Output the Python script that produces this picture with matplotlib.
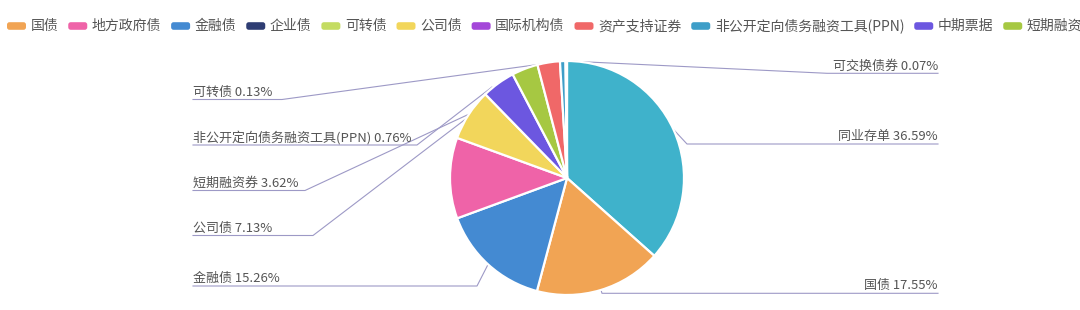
import numpy as np
import matplotlib
matplotlib.use('Agg')
import matplotlib.pyplot as plt
from matplotlib.patches import FancyBboxPatch

plt.rcParams['font.family'] = ['Noto Sans CJK SC', 'DejaVu Sans']

# data, in legend order
names = ['国债', '地方政府债', '金融债', '企业债', '可转债', '公司债', '国际机构债',
         '资产支持证券', '非公开定向债务融资工具(PPN)', '中期票据', '短期融资券',
         '同业存单', '可交换债券']
shares = [17.55, 11.17, 15.26, 0.0, 0.13, 7.13, 0.0,
          3.10, 0.76, 4.62, 3.62,
          36.59, 0.07]
colors = ['#f1a454', '#ef63a8', '#448ad2', '#2e3d73', '#c4dc62', '#f2d65b', '#a447d9',
          '#f06868', '#3e9ec8', '#6c57e0', '#a6c842',
          '#3fb2cb', '#c9b6ee']

# label layout in screen pixels: side, elbow x, underline y, line end x, line end y
label_layout = {
    '可转债': ('left', 282, 99.5, 560, 61.5),
    '非公开定向债务融资工具(PPN)': ('left', 417, 145, 492, 87),
    '短期融资券': ('left', 305, 190.5, 480, 109),
    '公司债': ('left', 313, 235.5, 467, 118),
    '金融债': ('left', 477, 286, 488, 264.5),
    '可交换债券': ('right', 827, 73.3, 567, 61),
    '同业存单': ('right', 687, 144, 674, 130),
    '国债': ('right', 602, 293.3, 601, 290),
}

W, H = 1080, 310
cx, cy, r = 567, 178, 117
left_x, right_x = 193, 938
line_color = '#9d99c6'
text_color = '#555555'
fs = 9.4
leg_fs = 10.0


def sy(y):
    return H - y


fig = plt.figure(figsize=(W / 100, H / 100), dpi=100)
ax = fig.add_axes([0, 0, 1, 1])

# pie, sorted by value, clockwise from the top
order = sorted([i for i in range(len(names)) if shares[i] > 0], key=lambda i: -shares[i])
ax.pie([shares[i] for i in order], colors=[colors[i] for i in order],
       startangle=90, counterclock=False, center=(cx, sy(cy)), radius=r,
       wedgeprops=dict(edgecolor='white', linewidth=1.6, zorder=3))

# labels with lines
for name, (side, ex, ly, tx, ty) in label_layout.items():
    txt = f'{name} {shares[names.index(name)]:.2f}%'
    if side == 'left':
        ax.plot([left_x, ex, tx], [sy(ly), sy(ly), sy(ty)], color=line_color, lw=0.8, zorder=1)
        ax.text(left_x, sy(ly - 7.5), txt, ha='left', va='center', fontsize=fs, color=text_color)
    else:
        ax.plot([right_x, ex, tx], [sy(ly), sy(ly), sy(ty)], color=line_color, lw=0.8, zorder=1)
        ax.text(right_x, sy(ly - 7.5), txt, ha='right', va='center', fontsize=fs, color=text_color)

ax.set_xlim(0, W)
ax.set_ylim(0, H)
ax.set_aspect('auto')
ax.axis('off')

# legend across the top, runs off the right edge like the original
renderer = fig.canvas.get_renderer()
x = 7
leg_y = 26
for name, c in zip(names, colors):
    if x > W:
        break
    ax.add_patch(FancyBboxPatch((x, sy(leg_y + 3.8)), 19, 7.6,
                                boxstyle='round,pad=0,rounding_size=2.5',
                                facecolor=c, edgecolor='none', clip_on=False))
    t = ax.text(x + 23.5, sy(leg_y), name, ha='left', va='center', fontsize=leg_fs,
                color=text_color, clip_on=False)
    bb = t.get_window_extent(renderer=renderer)
    x = bb.x1 + 10

fig.savefig('out.png', dpi=100)
